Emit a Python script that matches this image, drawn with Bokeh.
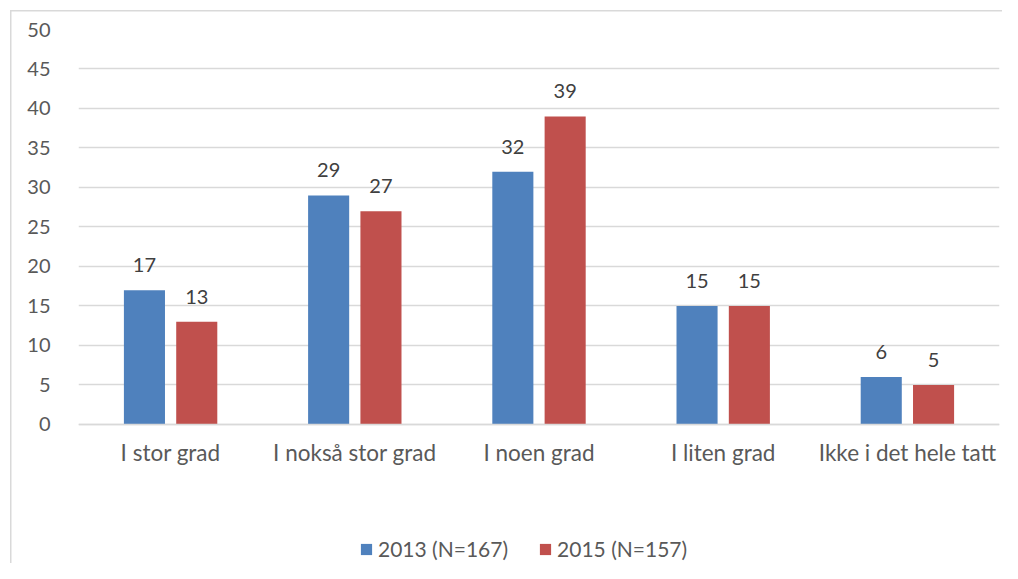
from bokeh.plotting import figure
from bokeh.models import ColumnDataSource, FactorRange, Range1d, LabelSet, Legend, LegendItem
from bokeh.core.properties import value
from bokeh.transform import dodge
from bokeh.embed import file_html
from bokeh.resources import INLINE

categories = ["I stor grad", "I nokså stor grad", "I noen grad", "I liten grad", "Ikke i det hele tatt"]
values_2013 = [17, 29, 32, 15, 6]
values_2015 = [13, 27, 39, 15, 5]
series_names = ["2013 (N=167)", "2015 (N=157)"]
y_ticks = [0, 5, 10, 15, 20, 25, 30, 35, 40, 45, 50]

FONT = "Lato"
TXT = "#595959"
LBL = "#404040"
GRID = "#d9d9d9"
BLUE = "#4f81bd"
RED = "#c0504d"

src = ColumnDataSource(dict(
    cat=categories,
    v13=values_2013,
    v15=values_2015,
    l13=[str(v) for v in values_2013],
    l15=[str(v) for v in values_2015],
))

p = figure(
    x_range=FactorRange(*categories, range_padding=0),
    y_range=Range1d(-17.6, 50),
    width=1002, height=563,
    output_backend="svg", toolbar_location=None,
    min_border_left=78, min_border_right=3, min_border_top=29, min_border_bottom=0,
)
p.styles = {
    "background-color": "white",
    "background-image": "linear-gradient(#d9d9d9, #d9d9d9), linear-gradient(#d9d9d9, #d9d9d9)",
    "background-size": "1.5px 100%, 100% 1.5px",
    "background-position": "9.5px 9.5px, 9.5px 9.5px",
    "background-repeat": "no-repeat",
}
p.outline_line_color = None
p.background_fill_color = None
p.border_fill_color = None

r1 = p.vbar(x=dodge("cat", -0.142, range=p.x_range), top="v13", width=0.223, source=src,
            fill_color=BLUE, line_color=None)
r2 = p.vbar(x=dodge("cat", 0.142, range=p.x_range), top="v15", width=0.223, source=src,
            fill_color=RED, line_color=None)

for col, lab, off in (("v13", "l13", -0.142), ("v15", "l15", 0.142)):
    ls = LabelSet(x=dodge("cat", off, range=p.x_range), y=col, text=lab, source=src,
                  text_align="center", text_baseline="alphabetic", y_offset=18,
                  text_font=value(FONT), text_font_size=value("20px"), text_color=LBL)
    p.add_layout(ls)

p.yaxis.ticker = y_ticks
p.yaxis.axis_line_color = None
p.yaxis.major_tick_line_color = None
p.yaxis.minor_tick_line_color = None
p.yaxis.major_label_standoff = 22
p.yaxis.major_label_text_font = FONT
p.yaxis.major_label_text_font_size = "20px"
p.yaxis.major_label_text_color = TXT

p.xaxis.fixed_location = 0
p.xaxis.axis_line_color = GRID
p.xaxis.axis_line_width = 1.5
p.xaxis.major_tick_line_color = None
p.xaxis.minor_tick_line_color = None
p.xaxis.major_label_standoff = 9
p.xaxis.major_label_text_font = FONT
p.xaxis.major_label_text_font_size = "22.5px"
p.xaxis.major_label_text_color = TXT

p.xgrid.grid_line_color = None
p.ygrid.grid_line_color = GRID
p.ygrid.grid_line_width = 1.5

legend = Legend(items=[LegendItem(label=series_names[0], renderers=[r1]),
                       LegendItem(label=series_names[1], renderers=[r2])],
                orientation="horizontal", location=(281, 2),
                glyph_width=14, glyph_height=14, label_standoff=5, spacing=30,
                padding=0, margin=0, border_line_color=None, background_fill_alpha=0,
                label_text_font=FONT, label_text_font_size="21px", label_text_color=TXT)
p.add_layout(legend)

open("out.html", "w").write(file_html(p, INLINE))
